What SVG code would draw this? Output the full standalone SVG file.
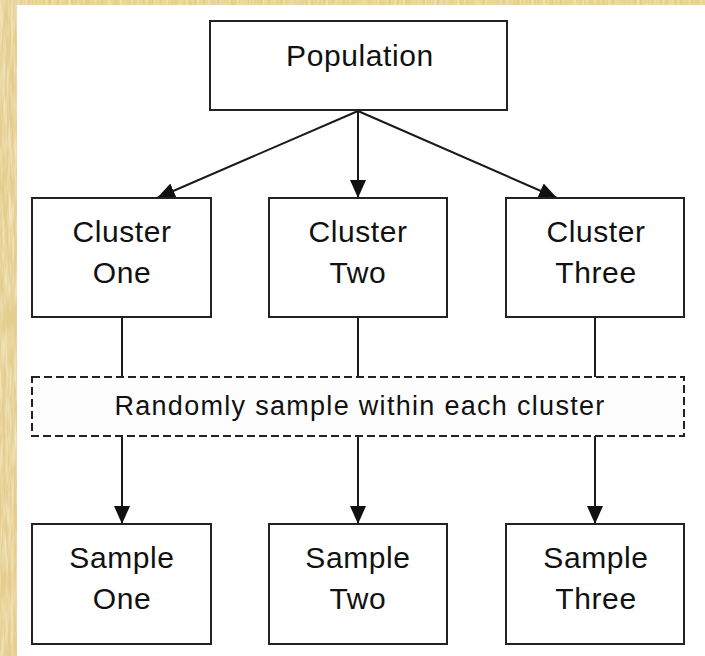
<svg xmlns="http://www.w3.org/2000/svg" width="705" height="656" viewBox="0 0 705 656">
  <defs>
    <filter id="grain" x="0" y="0" width="100%" height="100%">
      <feTurbulence type="fractalNoise" baseFrequency="0.35 0.03" numOctaves="3" seed="4" result="n"/>
      <feColorMatrix in="n" type="matrix" values="0 0 0 0 0.93  0 0 0 0 0.84  0 0 0 0 0.60  0 0 0 -1.6 1.05" result="tex"/>
      <feComposite in="tex" in2="SourceGraphic" operator="in"/>
    </filter>
    <marker id="arrow" markerUnits="userSpaceOnUse" markerWidth="18" markerHeight="16" refX="18" refY="8" orient="auto">
      <path d="M0,0 L18,8 L0,16 Z" fill="#111"/>
    </marker>
    <style>
      .box { fill: #ffffff; stroke: #222; stroke-width: 2; }
      .dash { fill: #fdfdfd; stroke: #222; stroke-width: 2; stroke-dasharray: 8 4; }
      .lbl { font-family: "Liberation Sans", Arial, sans-serif; font-size: 30px; letter-spacing: 0.6px; fill: #111; text-anchor: middle; }
      .note { font-family: "Liberation Sans", Arial, sans-serif; font-size: 27px; letter-spacing: 1.3px; fill: #111; text-anchor: middle; }
      .wire { fill: none; stroke: #1a1a1a; stroke-width: 2; }
    </style>
  </defs>

  <!-- textured backdrop and white sheet -->
  <rect x="0" y="0" width="705" height="656" fill="#e4cd8e"/>
  <rect x="0" y="0" width="705" height="656" fill="#ffffff" filter="url(#grain)"/>
  <rect x="17" y="5" width="688" height="651" fill="#ffffff"/>

  <g id="connectors">
    <line class="wire" x1="358" y1="111" x2="157" y2="198" marker-end="url(#arrow)"/>
    <line class="wire" x1="358" y1="111" x2="358" y2="198" marker-end="url(#arrow)"/>
    <line class="wire" x1="358" y1="111" x2="557" y2="198" marker-end="url(#arrow)"/>
    <line class="wire" x1="122" y1="318" x2="122" y2="377"/>
    <line class="wire" x1="358" y1="318" x2="358" y2="377"/>
    <line class="wire" x1="595" y1="318" x2="595" y2="377"/>
    <line class="wire" x1="122" y1="436" x2="122" y2="524" marker-end="url(#arrow)"/>
    <line class="wire" x1="358" y1="436" x2="358" y2="524" marker-end="url(#arrow)"/>
    <line class="wire" x1="595" y1="436" x2="595" y2="524" marker-end="url(#arrow)"/>
  </g>

  <g id="population">
    <rect class="box" x="210" y="21" width="297" height="89"/>
    <text class="lbl" x="360" y="66">Population</text>
  </g>

  <g id="cluster-one">
    <rect class="box" x="32" y="198" width="179" height="119"/>
    <text class="lbl" x="122" y="242">Cluster</text>
    <text class="lbl" x="122" y="283">One</text>
  </g>
  <g id="cluster-two">
    <rect class="box" x="269" y="198" width="178" height="119"/>
    <text class="lbl" x="358" y="242">Cluster</text>
    <text class="lbl" x="358" y="283">Two</text>
  </g>
  <g id="cluster-three">
    <rect class="box" x="506" y="198" width="178" height="119"/>
    <text class="lbl" x="596" y="242">Cluster</text>
    <text class="lbl" x="596" y="283">Three</text>
  </g>

  <g id="sampling-step">
    <rect class="dash" x="32" y="377" width="652" height="59"/>
    <text class="note" x="360" y="415">Randomly sample within each cluster</text>
  </g>

  <g id="sample-one">
    <rect class="box" x="32" y="524" width="179" height="120"/>
    <text class="lbl" x="122" y="568">Sample</text>
    <text class="lbl" x="122" y="609">One</text>
  </g>
  <g id="sample-two">
    <rect class="box" x="269" y="524" width="178" height="120"/>
    <text class="lbl" x="358" y="568">Sample</text>
    <text class="lbl" x="358" y="609">Two</text>
  </g>
  <g id="sample-three">
    <rect class="box" x="506" y="524" width="178" height="120"/>
    <text class="lbl" x="596" y="568">Sample</text>
    <text class="lbl" x="596" y="609">Three</text>
  </g>
</svg>
